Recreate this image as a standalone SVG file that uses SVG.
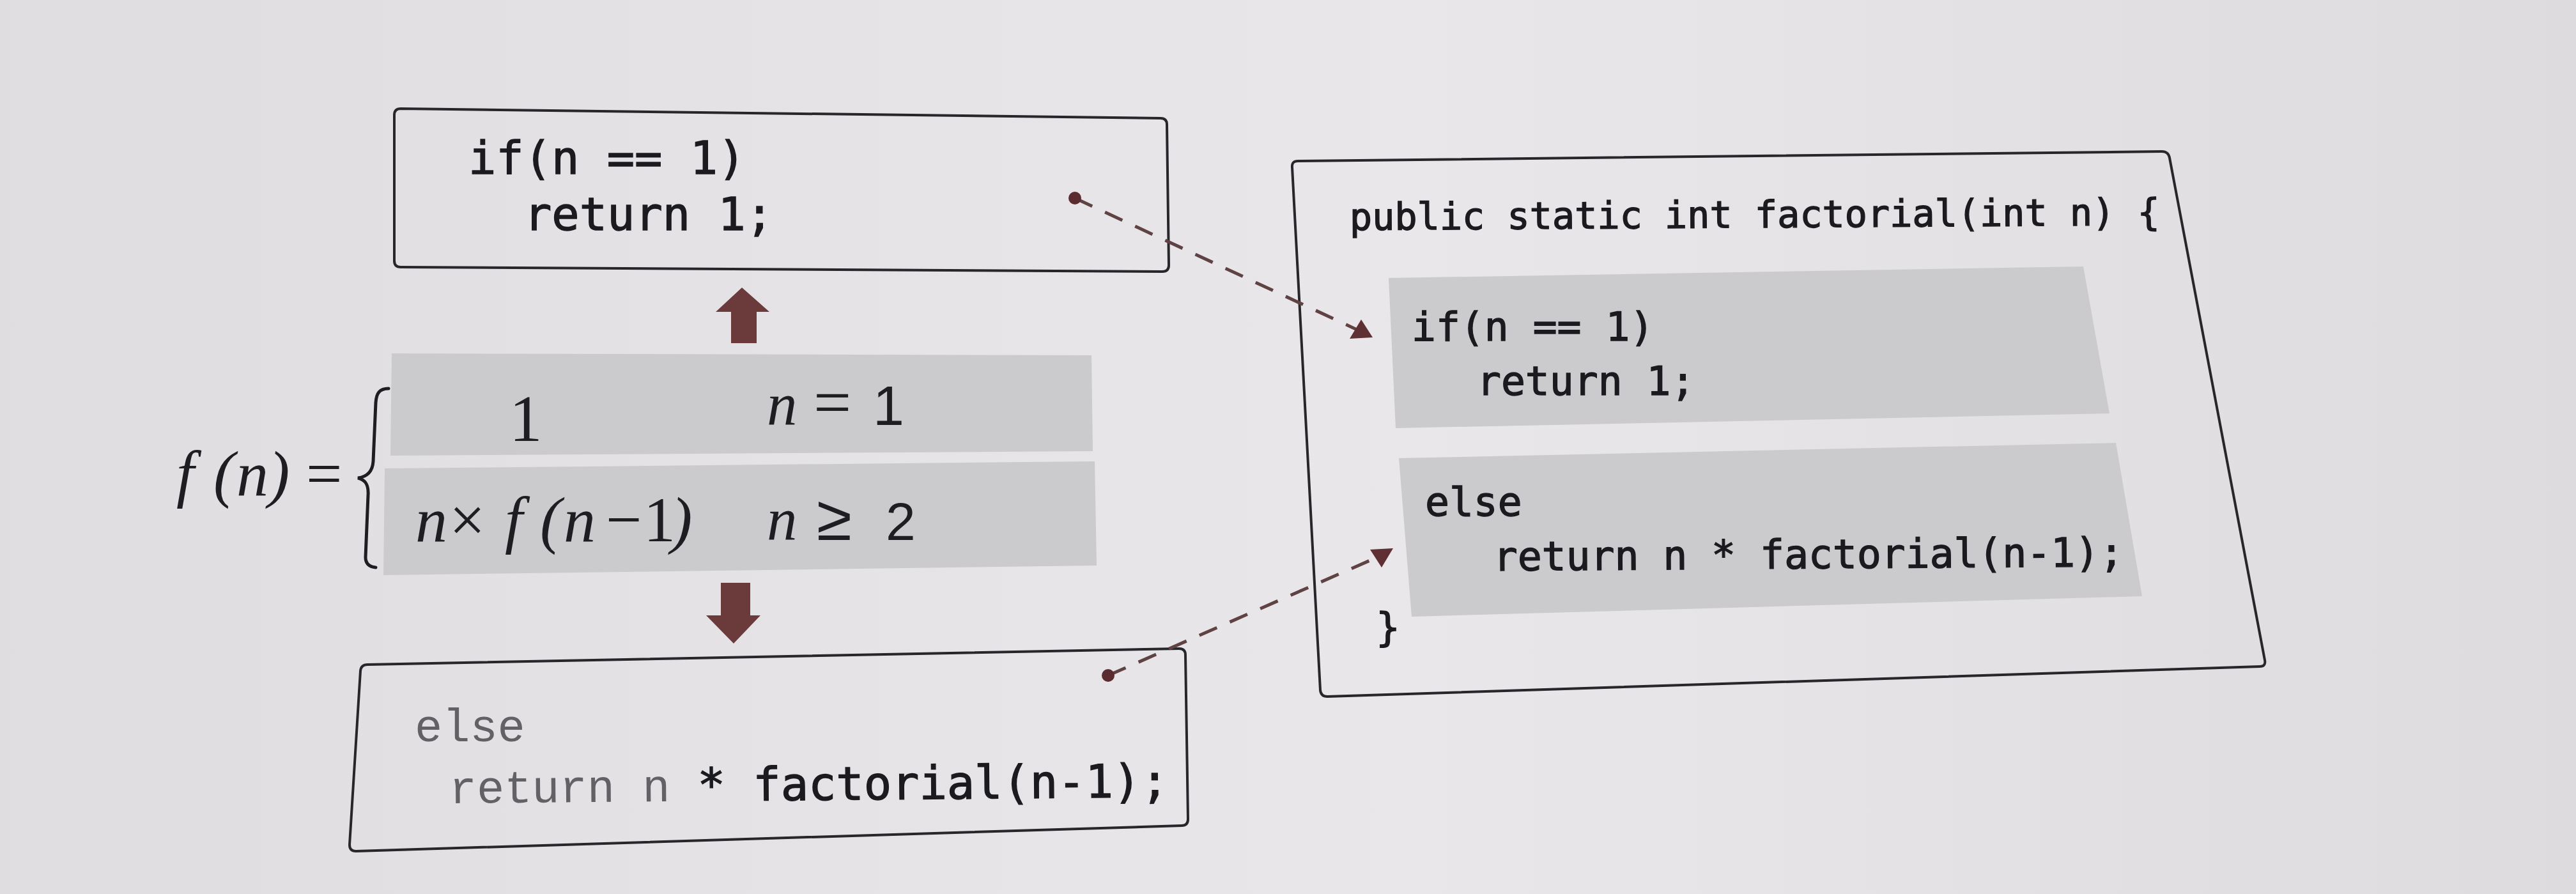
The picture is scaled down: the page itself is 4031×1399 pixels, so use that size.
<svg xmlns="http://www.w3.org/2000/svg" width="4031" height="1399" viewBox="0 0 4031 1399">
  <defs>
    <linearGradient id="paper" x1="0" y1="0" x2="1" y2="0">
      <stop offset="0" stop-color="#dfdde0"/>
      <stop offset="0.55" stop-color="#e9e7ea"/>
      <stop offset="1" stop-color="#dddbde"/>
    </linearGradient>
    <marker id="head" markerUnits="userSpaceOnUse" viewBox="-25 -25 50 50" markerWidth="50" markerHeight="50" refX="0" refY="0" orient="0">
      <polygon points="0,-19 -18,11 18,9" fill="#5e3034"/>
    </marker>
    <marker id="headDown" markerUnits="userSpaceOnUse" viewBox="-25 -25 50 50" markerWidth="50" markerHeight="50" refX="0" refY="0" orient="180">
      <polygon points="0,-19 -18,11 18,9" fill="#5e3034"/>
    </marker>
    <marker id="dot" markerUnits="userSpaceOnUse" viewBox="-14 -14 28 28" markerWidth="28" markerHeight="28" refX="0" refY="0" orient="0">
      <circle cx="0" cy="0" r="10" fill="#5a2c30"/>
    </marker>
  </defs>
  <style>
    .box { fill: none; stroke: #26262b; stroke-width: 4; }
    .shade { fill: #cbcacc; }
    .code { font-family: "DejaVu Sans Mono", "Liberation Mono", monospace; fill: #1a1a1f; stroke: #1a1a1f; stroke-width: 1.4; }
    .faint { font-family: "Liberation Mono", "DejaVu Sans Mono", monospace; fill: #626165; stroke: none; }
    .m { font-family: "Liberation Serif", "Times New Roman", serif; fill: #1d1d22; }
    .i { font-style: italic; }
    .s { font-family: "Liberation Sans", Arial, sans-serif; }
    .blk { fill: #6b3a3b; }
    .link { fill: none; stroke: #5e4244; stroke-width: 5; stroke-dasharray: 30 22; }
  </style>

  <rect x="0" y="0" width="4031" height="1399" fill="url(#paper)"/>

  <g id="box-if">
    <path class="box" d="M627,170 L1816,185 Q1826,185 1826,195 L1829,415 Q1829,425 1819,425 L627,418 Q617,418 617,408 L617,180 Q617,170 627,170 Z"/>
    <text class="code" font-size="72" x="733" y="272">if(n == 1)</text>
    <text class="code" font-size="72" x="820" y="360">return 1;</text>
  </g>

  <g id="arrow-up">
    <polygon class="blk" points="1161,450 1204,488 1184,488 1184,537 1144,537 1144,488 1120,488"/>
  </g>

  <g id="formula">
    <polygon class="shade" points="613,553 1708,556 1710,706 611,713"/>
    <polygon class="shade" points="602,733 1713,722 1716,885 600,900"/>
    <path d="M608,608 C594,608 589,615 588,630 L584,722 C583,738 575,746 560,748 C573,751 577,760 576,775 L572,872 C572,882 578,887 588,888" fill="none" stroke="#1d1d22" stroke-width="5" stroke-linecap="round"/>
    <text class="m" font-size="100" y="775"><tspan class="i" x="276">f</tspan><tspan class="i" x="334">(</tspan><tspan class="i" x="370">n</tspan><tspan class="i" x="420">)</tspan><tspan x="479">=</tspan></text>
    <text class="m" font-size="103" x="797" y="690">1</text>
    <text class="m" font-size="95" y="665"><tspan class="i" x="1200">n</tspan><tspan x="1273" font-size="105">=</tspan><tspan class="s" x="1366" font-size="88">1</tspan></text>
    <text class="m" font-size="100" y="847"><tspan class="i" x="650">n</tspan><tspan x="703">×</tspan><tspan class="i" x="790">f</tspan><tspan class="i" x="845">(</tspan><tspan class="i" x="882">n</tspan><tspan x="948">−</tspan><tspan x="1007">1</tspan><tspan class="i" x="1050">)</tspan></text>
    <text class="m" font-size="95" y="845"><tspan class="i" x="1200">n</tspan><tspan class="s" x="1278" font-size="100">≥</tspan><tspan class="s" x="1386" font-size="84">2</tspan></text>
  </g>

  <g id="arrow-down">
    <polygon class="blk" points="1128,912 1174,912 1174,963 1190,963 1148,1007 1105,963 1128,963"/>
  </g>

  <g id="box-else">
    <path class="box" d="M575,1040 L1845,1015 Q1855,1015 1855,1025 L1859,1282 Q1859,1292 1849,1292 L557,1332 Q547,1332 547,1322 L564,1050 Q565,1040 575,1040 Z"/>
    <text class="faint" font-size="72" x="649" y="1160">else</text>
    <text font-size="72" x="703" y="1257" transform="rotate(-0.5 703 1257)"><tspan class="faint">return n </tspan><tspan class="code">* factorial(n-1);</tspan></text>
  </g>

  <g id="box-factorial">
    <path class="box" stroke-width="3.5" d="M2031,252 L3383,237 Q3393,237 3395,247 L3544,1033 Q3546,1043 3536,1043 L2077,1090 Q2067,1090 2066,1080 L2022,262 Q2021,252 2031,252 Z"/>
    <polygon class="shade" points="2173,435 3260,417 3301,647 2184,670"/>
    <polygon class="shade" points="2189,717 3311,693 3352,933 2209,965"/>
    <text class="code" font-size="58.5" x="2112" y="360" transform="rotate(-0.35 2112 360)">public static int factorial(int n) {</text>
    <text class="code" font-size="63" x="2209" y="533">if(n == 1)</text>
    <text class="code" font-size="63" x="2311" y="618">return 1;</text>
    <text class="code" font-size="63" x="2230" y="807">else</text>
    <text class="code" font-size="63" x="2337" y="893" transform="rotate(-0.4 2337 893)">return n * factorial(n-1);</text>
    <text class="code" font-size="63" x="2153" y="1003">}</text>
  </g>

  <g id="connectors">
    <path class="link" d="M1682,310 L2130,519" marker-start="url(#dot)" marker-end="url(#head)"/>
    <path class="link" d="M1734,1057 L2162,869" marker-start="url(#dot)" marker-end="url(#headDown)"/>
  </g>
</svg>
